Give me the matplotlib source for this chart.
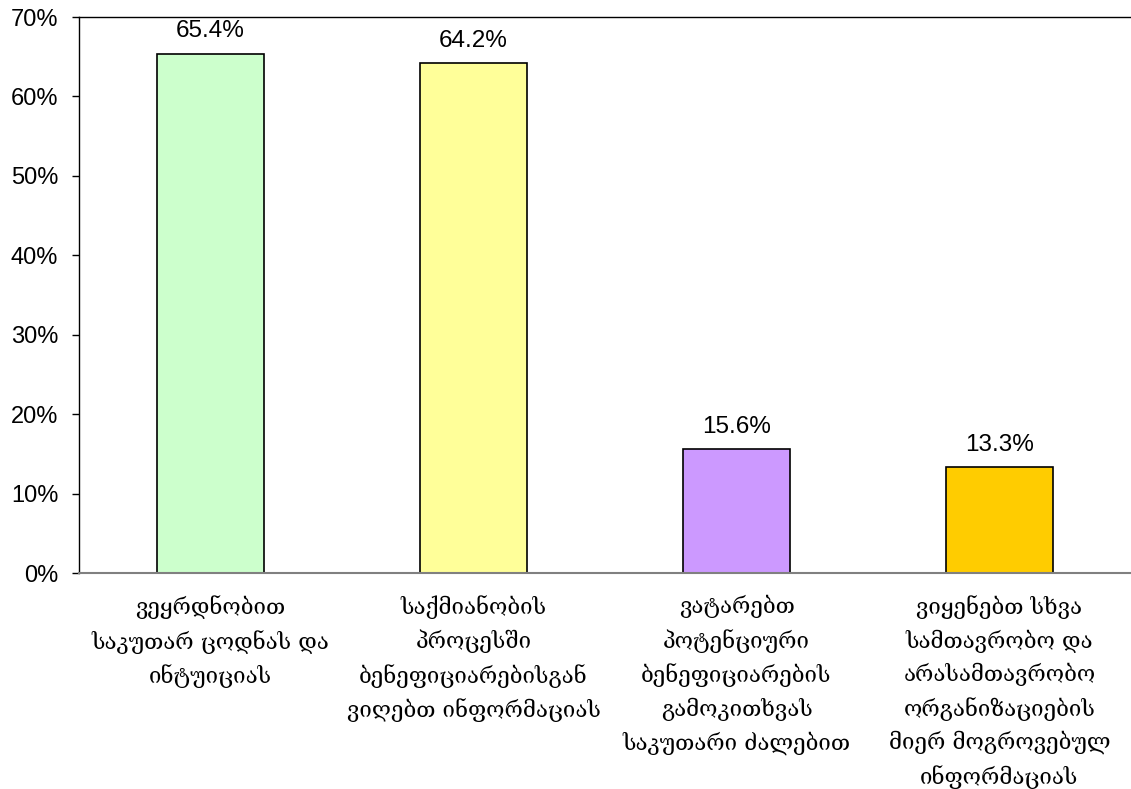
import matplotlib.pyplot as plt

categories = [
    "ვეყრდნობით\nსაკუთარ ცოდნას და\nინტუიციას",
    "საქმიანობის\nპროცესში\nბენეფიციარებისგან\nვიღებთ ინფორმაციას",
    "ვატარებთ\nპოტენციური\nბენეფიციარების\nგამოკითხვას\nსაკუთარი ძალებით",
    "ვიყენებთ სხვა\nსამთავრობო და\nარასამთავრობო\nორგანიზაციების\nმიერ მოგროვებულ\nინფორმაციას",
]
values = [65.4, 64.2, 15.6, 13.3]
colors = ["#CCFFCC", "#FFFF99", "#CC99FF", "#FFCC00"]
yticks = [0, 10, 20, 30, 40, 50, 60, 70]

fig = plt.figure(figsize=(11.31, 7.89), dpi=100)
ax = fig.add_axes([79 / 1131, 1 - 573 / 789, 1 - 79 / 1131, (573 - 17) / 789])

x = range(len(values))
ax.bar(x, values, width=0.405, color=colors, edgecolor="black", linewidth=1.2, zorder=2)

for i, v in enumerate(values):
    ax.annotate(f"{v:.1f}%", (i, v), xytext=(0, 8), textcoords="offset points",
                ha="center", va="bottom", fontsize=17.5, family="Liberation Sans")

ax.set_xlim(-0.5, 3.5)
ax.set_ylim(0, 70)
ax.set_yticks(yticks)
ax.set_yticklabels([f"{t}%" for t in yticks], fontsize=17, family="Liberation Sans")
ax.set_xticks(list(x))
ax.set_xticklabels(categories, fontsize=16, family="DejaVu Serif", linespacing=1.56)
ax.tick_params(axis="x", length=0, pad=16)
ax.tick_params(axis="y", direction="out", length=5, width=1, pad=10)

ax.spines["right"].set_visible(False)
ax.spines["bottom"].set_color("#808080")
ax.spines["bottom"].set_linewidth(1.5)
ax.spines["top"].set_linewidth(1)
ax.spines["left"].set_linewidth(1)

fig.savefig("out.png", dpi=100)
